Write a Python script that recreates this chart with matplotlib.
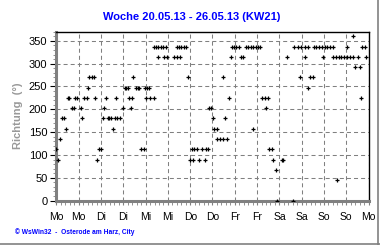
import matplotlib
matplotlib.use("Agg")
import matplotlib.pyplot as plt
from matplotlib.lines import Line2D
from matplotlib.ticker import MultipleLocator

title = "Woche 20.05.13 - 26.05.13 (KW21)"
ylabel = "Richtung  (°)"
footer = "© WsWin32  -  Osterode am Harz, City"
day_labels = ["Mo", "Mo", "Di", "Di", "Mi", "Mi", "Do", "Do",
              "Fr", "Fr", "Sa", "Sa", "So", "So", "Mo"]
y_ticks = [0, 50, 100, 150, 200, 250, 300, 350]

# hours since Monday 00:00
hours = [
    0.0, 0.9, 2.1, 3.2, 4.0, 5.0, 6.2, 6.9, 8.4, 9.3, 10.2, 10.9, 13.1, 13.9,
    14.9, 16.3, 17.0, 17.7, 18.9, 20.1, 20.9, 21.9, 22.9, 24.2, 25.0, 25.8,
    26.9, 27.6, 28.5, 29.4, 30.2, 31.4, 32.2, 32.8, 34.4, 35.8, 36.8, 37.6,
    38.5, 39.2, 40.0, 40.8, 41.4, 42.8, 43.8, 44.6, 45.7, 47.0, 47.8, 48.4,
    48.9, 50.0, 50.5, 52.4, 52.5, 53.6, 54.7, 54.8, 56.3, 57.4, 58.1, 59.0,
    59.7, 63.3, 64.9, 65.0, 66.0, 66.6, 67.1, 68.7, 69.8, 71.0, 71.9, 72.8,
    73.7, 74.3, 75.8, 76.9, 78.6, 80.1, 80.4, 81.7, 82.3, 83.0, 84.1, 84.8,
    86.3, 86.6, 88.0, 89.8, 89.8, 90.7, 92.0, 93.1, 93.8, 94.5, 95.6, 96.7,
    98.0, 99.2, 100.6, 101.8, 103.1, 104.5, 105.8, 106.0, 107.2, 108.5, 109.8,
    110.5, 112.0, 112.8, 114.0, 114.6, 115.9, 116.7, 118.0, 118.9, 121.3,
    122.2, 123.9, 127.5, 127.9, 129.8, 130.9, 131.7, 133.6, 133.8, 135.4,
    135.4, 136.7, 137.9, 138.4, 139.7, 141.1, 142.9, 143.5, 144.3, 145.7,
    147.0, 148.6, 148.9, 150.5, 150.9, 151.9, 153.2, 154.6, 156.2, 156.2,
    157.8, 159.7, 159.7, 160.8, 162.4, 163.2, 163.8, 164.2, 166.1, 166.4,
]
direction = [
    112.5, 90, 135, 180, 180, 157.5, 225, 225, 202.5, 202.5, 225, 225, 202.5, 180,
    225, 225, 247.5, 270, 270, 270, 225, 90, 112.5, 112.5, 180, 202.5,
    225, 180, 180, 180, 157.5, 180, 225, 180, 180, 202.5, 247.5, 247.5,
    247.5, 225, 202.5, 225, 270, 247.5, 247.5, 247.5, 112.5, 112.5, 247.5, 225,
    247.5, 247.5, 225, 225, 337.5, 337.5, 337.5, 315, 337.5, 337.5, 315, 337.5,
    315, 315, 337.5, 315, 337.5, 315, 337.5, 337.5, 337.5, 270, 90, 112.5,
    90, 112.5, 112.5, 90, 112.5, 90, 112.5, 112.5, 202.5, 202.5, 180, 157.5,
    157.5, 135, 135, 135, 270, 180, 135, 225, 315, 337.5, 337.5, 337.5,
    337.5, 315, 315, 337.5, 337.5, 337.5, 337.5, 157.5, 337.5, 337.5, 337.5,
    225, 225, 202.5, 225, 112.5, 112.5, 90, 67.5, 0, 90,
    90, 315, 0, 337.5, 337.5, 270, 337.5, 337.5, 315, 337.5,
    247.5, 270, 270, 337.5, 337.5, 337.5, 337.5, 315, 337.5, 337.5,
    337.5, 337.5, 315, 315, 45, 315, 315, 315, 315, 337.5,
    315, 315, 360, 292.5, 315, 292.5, 225, 337.5, 337.5, 315,
]

plt.rcParams['font.family'] = ['Liberation Sans', 'DejaVu Sans']
plt.rcParams['lines.scale_dashes'] = False

W, H = 380, 245
fig = plt.figure(figsize=(W / 100, H / 100), dpi=100)
fig.patch.set_facecolor('white')
ax = fig.add_axes([56.4 / W, (H - 200.6) / H, 312.2 / W, 168.9 / H])
ax.set_xlim(0, 168)
ax.set_ylim(0, 370)
ax.set_xticks(range(0, 169, 12))
ax.set_xticklabels(day_labels)
ax.set_yticks(y_ticks)
ax.xaxis.set_minor_locator(MultipleLocator(2.4))
ax.yaxis.set_minor_locator(MultipleLocator(10))
ax.grid(True, which='major', color='#808080', linestyle=(0, (2.9, 2.2)), linewidth=0.75)
ax.set_axisbelow(True)

ax.plot(hours, direction, linestyle='none', marker='+', color='black',
        markersize=2.4, markeredgewidth=0.9, zorder=3)

for s in ('left', 'bottom'):
    ax.spines[s].set_color('#808080')
    ax.spines[s].set_linewidth(2.2)
for s in ('top', 'right'):
    ax.spines[s].set_color('black')
    ax.spines[s].set_linewidth(1.0)

ax.tick_params(axis='y', which='major', length=4.5, width=0.8, color='black', pad=2, labelsize=8)
ax.tick_params(axis='y', which='minor', length=2, width=0.6, color='#808080')
ax.tick_params(axis='x', which='major', length=3, width=0.8, color='#808080', pad=5, labelsize=7.5)
ax.tick_params(axis='x', which='minor', length=3, width=0.6, color='#808080')

fig.text(191.3 / W, 1 - 17.5 / H, title, color='#0000FF', fontweight='bold',
         fontsize=8, ha='center', va='center')
fig.text(18 / W, 1 - 116 / H, ylabel, rotation=90, color='#999999', fontweight='bold',
         fontsize=8, ha='center', va='center')
fig.text(15 / W, 1 - 232 / H, footer, color='#0000FF', fontweight='bold',
         fontsize=4.8, ha='left', va='center')

fig.add_artist(Line2D([0, 1], [1 - 243.5 / H] * 2, transform=fig.transFigure,
                      color='#808080', lw=1.2))
fig.add_artist(Line2D([377.5 / W] * 2, [0, 1], transform=fig.transFigure,
                      color='#808080', lw=1.2))

fig.savefig('out.png', dpi=100)
